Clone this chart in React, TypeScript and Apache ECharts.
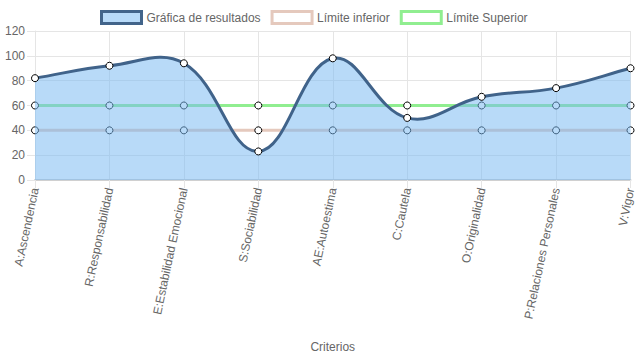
import React, { useEffect, useRef } from "react";
import * as echarts from "echarts";

const categories = [
  "A:Ascendencia",
  "R:Responsabilidad",
  "E:Estabilidad Emocional",
  "S:Sociabilidad",
  "AE:Autoestima",
  "C:Cautela",
  "O:Originalidad",
  "P:Relaciones Personales",
  "V:Vigor",
];
const resultados = [82, 92, 94, 23, 98, 50, 67, 74, 90];
const limiteInferior = [40, 40, 40, 40, 40, 40, 40, 40, 40];
const limiteSuperior = [60, 60, 60, 60, 60, 60, 60, 60, 60];
const yTicks = { min: 0, max: 120, interval: 20 };

const FONT = "'Liberation Sans', Arial, sans-serif";
const TENSION = 0.4;

function splinePath(pts: number[][]): string {
  const n = pts.length;
  const cps: { px: number; py: number; nx: number; ny: number }[] = [];
  for (let i = 0; i < n; i++) {
    const cur = pts[i];
    const prev = pts[i - 1] || cur;
    const next = pts[i + 1] || cur;
    const d01 = Math.hypot(cur[0] - prev[0], cur[1] - prev[1]);
    const d12 = Math.hypot(next[0] - cur[0], next[1] - cur[1]);
    let s01 = d01 / (d01 + d12);
    let s12 = d12 / (d01 + d12);
    if (!isFinite(s01)) s01 = 0;
    if (!isFinite(s12)) s12 = 0;
    const fa = TENSION * s01;
    const fb = TENSION * s12;
    cps.push({
      px: cur[0] - fa * (next[0] - prev[0]),
      py: cur[1] - fa * (next[1] - prev[1]),
      nx: cur[0] + fb * (next[0] - prev[0]),
      ny: cur[1] + fb * (next[1] - prev[1]),
    });
  }
  let d = `M${pts[0][0]},${pts[0][1]}`;
  for (let i = 1; i < n; i++) {
    d += ` C${cps[i - 1].nx},${cps[i - 1].ny} ${cps[i].px},${cps[i].py} ${pts[i][0]},${pts[i][1]}`;
  }
  return d;
}

export default function App() {
  const ref = useRef<HTMLDivElement>(null);
  useEffect(() => {
    if (!ref.current) return;
    const chart = echarts.init(ref.current, undefined, { renderer: "svg" });
    const sym = {
      symbol: "circle",
      symbolSize: 7,
      showSymbol: true,
    };
    chart.setOption({
      animation: false,
      textStyle: { fontFamily: FONT },
      legend: {
        top: 10,
        left: 100,
        padding: 0,
        icon: "rect",
        itemWidth: 40,
        itemHeight: 12,
        itemGap: 10,
        textStyle: { color: "#666", fontSize: 12, fontFamily: FONT },
        data: [
          {
            name: "Gráfica de resultados",
            itemStyle: { color: "#b8daf8", borderColor: "#42648a", borderWidth: 3 },
          },
          {
            name: "Límite inferior",
            itemStyle: { color: "#ffffff", borderColor: "#e5c9bd", borderWidth: 3 },
          },
          {
            name: "Límite Superior",
            itemStyle: { color: "#ffffff", borderColor: "#90ee90", borderWidth: 3 },
          },
        ],
      },
      grid: { left: 35, right: 4, top: 31, bottom: 179, containLabel: false },
      xAxis: {
        type: "category",
        data: categories,
        boundaryGap: false,
        name: "Criterios",
        nameLocation: "middle",
        nameGap: 161,
        nameTextStyle: { color: "#666", fontSize: 12, fontFamily: FONT },
        axisLine: { show: true, lineStyle: { color: "#d0d0d0", width: 2 } },
        axisTick: { show: true, length: 8, lineStyle: { color: "#e5e5e5" } },
        axisLabel: {
          color: "#666",
          fontSize: 12,
          fontFamily: FONT,
          rotate: 78,
          margin: 8,
          interval: 0,
        },
        splitLine: { show: true, lineStyle: { color: "#e5e5e5" } },
      },
      yAxis: {
        type: "value",
        min: yTicks.min,
        max: yTicks.max,
        interval: yTicks.interval,
        axisLine: { show: true, lineStyle: { color: "#e5e5e5" } },
        axisTick: { show: true, length: 8, lineStyle: { color: "#e5e5e5" } },
        axisLabel: { color: "#666", fontSize: 12, fontFamily: FONT, margin: 10 },
        splitLine: { show: true, lineStyle: { color: "#e5e5e5" } },
      },
      series: [
        {
          name: "Gráfica de resultados",
          type: "custom",
          coordinateSystem: "cartesian2d",
          z: 5,
          silent: true,
          data: resultados.map((v, i) => [i, v]),
          encode: { x: 0, y: 1 },
          renderItem: (params: any, api: any) => {
            if (params.dataIndex !== 0) return null;
            const pts = resultados.map((v, i) => api.coord([i, v]));
            const base = api.coord([0, yTicks.min])[1];
            const line = splinePath(pts);
            const area =
              line +
              ` L${pts[pts.length - 1][0]},${base} L${pts[0][0]},${base} Z`;
            return {
              type: "group",
              children: [
                {
                  type: "path",
                  shape: { pathData: area },
                  style: { fill: "rgba(118,184,242,0.52)", stroke: "none" },
                },
                {
                  type: "path",
                  shape: { pathData: line },
                  style: { fill: "none", stroke: "#40638a", lineWidth: 3 },
                },
              ],
            };
          },
        },
        {
          name: "Gráfica de resultados",
          type: "line",
          data: resultados,
          z: 6,
          ...sym,
          lineStyle: { width: 0, opacity: 0 },
          itemStyle: { color: "#ffffff", borderColor: "#000000", borderWidth: 1 },
        },
        {
          name: "Límite inferior",
          type: "line",
          data: limiteInferior,
          z: 2,
          ...sym,
          lineStyle: { color: "#e5c9bd", width: 3 },
          itemStyle: { color: "#ffffff", borderColor: "#000000", borderWidth: 1 },
        },
        {
          name: "Límite Superior",
          type: "line",
          data: limiteSuperior,
          z: 2,
          ...sym,
          lineStyle: { color: "#90ee90", width: 3 },
          itemStyle: { color: "#ffffff", borderColor: "#000000", borderWidth: 1 },
        },
      ],
    });
    return () => chart.dispose();
  }, []);
  return <div ref={ref} style={{ width: 637, height: 359, position: "absolute", left: 0, top: 0 }} />;
}
